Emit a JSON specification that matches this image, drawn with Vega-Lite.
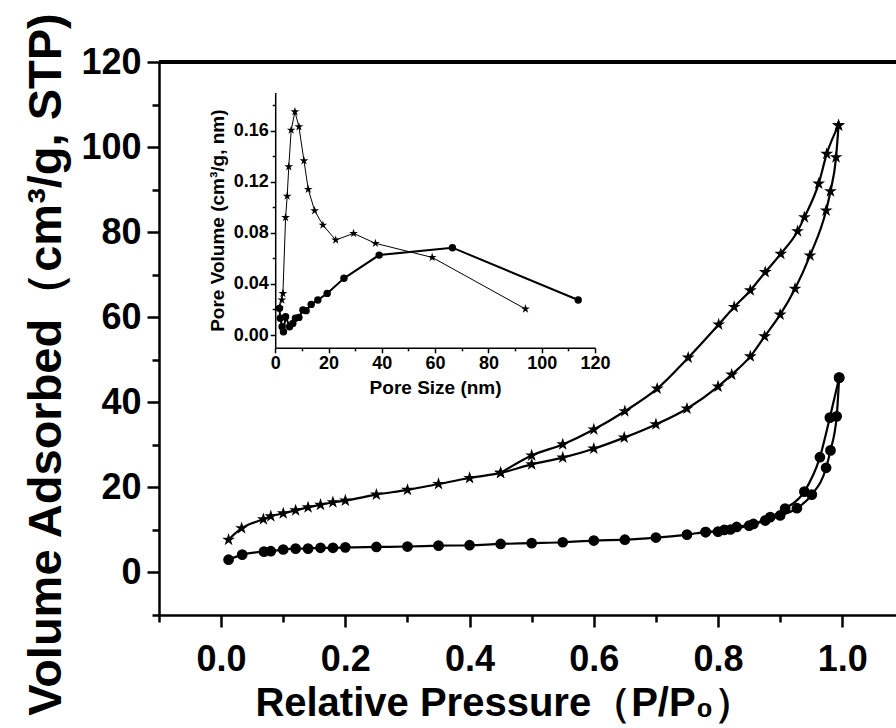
{
  "$schema": "https://vega.github.io/schema/vega-lite/v6.json",
  "width": 737,
  "height": 553,
  "autosize": {"type": "none"},
  "padding": {"left": 159, "top": 62, "right": 0, "bottom": 113},
  "background": "white",
  "config": {
    "view": {"stroke": null},
    "font": "Liberation Sans",
    "axis": {
      "domainColor": "black", "tickColor": "black", "labelColor": "black", "titleColor": "black",
      "grid": false, "labelFont": "Liberation Sans", "titleFont": "Liberation Sans",
      "labelFontWeight": "bold", "titleFontWeight": "bold", "labelOverlap": false, "labelFlush": false
    }
  },
  "datasets": {
    "iso": [
      {"p": 0.012, "v": 7.7, "series": "sa", "sample": "star"},
      {"p": 0.033, "v": 10.4, "series": "sa", "sample": "star"},
      {"p": 0.068, "v": 12.5, "series": "sa", "sample": "star"},
      {"p": 0.08, "v": 13.2, "series": "sa", "sample": "star"},
      {"p": 0.1, "v": 13.9, "series": "sa", "sample": "star"},
      {"p": 0.12, "v": 14.6, "series": "sa", "sample": "star"},
      {"p": 0.14, "v": 15.3, "series": "sa", "sample": "star"},
      {"p": 0.16, "v": 15.9, "series": "sa", "sample": "star"},
      {"p": 0.18, "v": 16.5, "series": "sa", "sample": "star"},
      {"p": 0.2, "v": 16.9, "series": "sa", "sample": "star"},
      {"p": 0.25, "v": 18.3, "series": "sa", "sample": "star"},
      {"p": 0.3, "v": 19.4, "series": "sa", "sample": "star"},
      {"p": 0.35, "v": 20.8, "series": "sa", "sample": "star"},
      {"p": 0.4, "v": 22.2, "series": "sa", "sample": "star"},
      {"p": 0.45, "v": 23.4, "series": "sa", "sample": "star"},
      {"p": 0.5, "v": 25.4, "series": "sa", "sample": "star"},
      {"p": 0.55, "v": 27.0, "series": "sa", "sample": "star"},
      {"p": 0.6, "v": 29.1, "series": "sa", "sample": "star"},
      {"p": 0.649, "v": 31.7, "series": "sa", "sample": "star"},
      {"p": 0.7, "v": 34.8, "series": "sa", "sample": "star"},
      {"p": 0.75, "v": 38.5, "series": "sa", "sample": "star"},
      {"p": 0.8, "v": 43.7, "series": "sa", "sample": "star"},
      {"p": 0.822, "v": 46.5, "series": "sa", "sample": "star"},
      {"p": 0.852, "v": 50.8, "series": "sa", "sample": "star"},
      {"p": 0.875, "v": 55.5, "series": "sa", "sample": "star"},
      {"p": 0.9, "v": 60.6, "series": "sa", "sample": "star"},
      {"p": 0.924, "v": 66.7, "series": "sa", "sample": "star"},
      {"p": 0.948, "v": 74.5, "series": "sa", "sample": "star"},
      {"p": 0.974, "v": 85.1, "series": "sa", "sample": "star"},
      {"p": 0.981, "v": 89.6, "series": "sa", "sample": "star"},
      {"p": 0.99, "v": 97.6, "series": "sa", "sample": "star"},
      {"p": 0.994, "v": 105.1, "series": "sa", "sample": "star"},
      {"p": 0.994, "v": 105.1, "series": "sd", "sample": "star"},
      {"p": 0.975, "v": 98.4, "series": "sd", "sample": "star"},
      {"p": 0.962, "v": 91.4, "series": "sd", "sample": "star"},
      {"p": 0.939, "v": 83.5, "series": "sd", "sample": "star"},
      {"p": 0.928, "v": 80.2, "series": "sd", "sample": "star"},
      {"p": 0.901, "v": 74.9, "series": "sd", "sample": "star"},
      {"p": 0.876, "v": 70.6, "series": "sd", "sample": "star"},
      {"p": 0.852, "v": 66.3, "series": "sd", "sample": "star"},
      {"p": 0.826, "v": 62.4, "series": "sd", "sample": "star"},
      {"p": 0.801, "v": 58.3, "series": "sd", "sample": "star"},
      {"p": 0.752, "v": 50.5, "series": "sd", "sample": "star"},
      {"p": 0.702, "v": 43.2, "series": "sd", "sample": "star"},
      {"p": 0.65, "v": 37.9, "series": "sd", "sample": "star"},
      {"p": 0.6, "v": 33.6, "series": "sd", "sample": "star"},
      {"p": 0.55, "v": 30.1, "series": "sd", "sample": "star"},
      {"p": 0.5, "v": 27.5, "series": "sd", "sample": "star"},
      {"p": 0.45, "v": 23.4, "series": "sd", "sample": "star"},
      {"p": 0.012, "v": 3.0, "series": "ca", "sample": "circle"},
      {"p": 0.034, "v": 4.2, "series": "ca", "sample": "circle"},
      {"p": 0.069, "v": 4.9, "series": "ca", "sample": "circle"},
      {"p": 0.08, "v": 5.0, "series": "ca", "sample": "circle"},
      {"p": 0.1, "v": 5.4, "series": "ca", "sample": "circle"},
      {"p": 0.12, "v": 5.6, "series": "ca", "sample": "circle"},
      {"p": 0.14, "v": 5.6, "series": "ca", "sample": "circle"},
      {"p": 0.16, "v": 5.8, "series": "ca", "sample": "circle"},
      {"p": 0.18, "v": 5.8, "series": "ca", "sample": "circle"},
      {"p": 0.2, "v": 5.9, "series": "ca", "sample": "circle"},
      {"p": 0.25, "v": 6.0, "series": "ca", "sample": "circle"},
      {"p": 0.3, "v": 6.1, "series": "ca", "sample": "circle"},
      {"p": 0.35, "v": 6.3, "series": "ca", "sample": "circle"},
      {"p": 0.4, "v": 6.4, "series": "ca", "sample": "circle"},
      {"p": 0.45, "v": 6.7, "series": "ca", "sample": "circle"},
      {"p": 0.5, "v": 6.9, "series": "ca", "sample": "circle"},
      {"p": 0.55, "v": 7.1, "series": "ca", "sample": "circle"},
      {"p": 0.6, "v": 7.5, "series": "ca", "sample": "circle"},
      {"p": 0.65, "v": 7.7, "series": "ca", "sample": "circle"},
      {"p": 0.7, "v": 8.2, "series": "ca", "sample": "circle"},
      {"p": 0.75, "v": 8.9, "series": "ca", "sample": "circle"},
      {"p": 0.78, "v": 9.5, "series": "ca", "sample": "circle"},
      {"p": 0.8, "v": 9.6, "series": "ca", "sample": "circle"},
      {"p": 0.82, "v": 10.1, "series": "ca", "sample": "circle"},
      {"p": 0.85, "v": 11.0, "series": "ca", "sample": "circle"},
      {"p": 0.876, "v": 12.2, "series": "ca", "sample": "circle"},
      {"p": 0.9, "v": 13.4, "series": "ca", "sample": "circle"},
      {"p": 0.927, "v": 15.1, "series": "ca", "sample": "circle"},
      {"p": 0.951, "v": 18.3, "series": "ca", "sample": "circle"},
      {"p": 0.974, "v": 24.6, "series": "ca", "sample": "circle"},
      {"p": 0.981, "v": 28.7, "series": "ca", "sample": "circle"},
      {"p": 0.991, "v": 36.7, "series": "ca", "sample": "circle"},
      {"p": 0.995, "v": 45.8, "series": "ca", "sample": "circle"},
      {"p": 0.995, "v": 45.8, "series": "cd", "sample": "circle"},
      {"p": 0.98, "v": 36.4, "series": "cd", "sample": "circle"},
      {"p": 0.964, "v": 27.1, "series": "cd", "sample": "circle"},
      {"p": 0.939, "v": 19.0, "series": "cd", "sample": "circle"},
      {"p": 0.908, "v": 15.0, "series": "cd", "sample": "circle"},
      {"p": 0.884, "v": 13.0, "series": "cd", "sample": "circle"},
      {"p": 0.857, "v": 11.4, "series": "cd", "sample": "circle"},
      {"p": 0.83, "v": 10.7, "series": "cd", "sample": "circle"},
      {"p": 0.81, "v": 10.0, "series": "cd", "sample": "circle"},
      {"p": 0.78, "v": 9.5, "series": "cd", "sample": "circle"}
    ],
    "psd": [
      {"d": 1.6, "pv": 0.0217, "sample": "star"},
      {"d": 2.5, "pv": 0.0274, "sample": "star"},
      {"d": 2.9, "pv": 0.0326, "sample": "star"},
      {"d": 3.9, "pv": 0.0921, "sample": "star"},
      {"d": 4.5, "pv": 0.1088, "sample": "star"},
      {"d": 5.1, "pv": 0.1318, "sample": "star"},
      {"d": 6.0, "pv": 0.1605, "sample": "star"},
      {"d": 7.4, "pv": 0.1749, "sample": "star"},
      {"d": 8.9, "pv": 0.1631, "sample": "star"},
      {"d": 10.8, "pv": 0.1365, "sample": "star"},
      {"d": 12.4, "pv": 0.1141, "sample": "star"},
      {"d": 14.8, "pv": 0.0974, "sample": "star"},
      {"d": 17.9, "pv": 0.0861, "sample": "star"},
      {"d": 22.7, "pv": 0.0744, "sample": "star"},
      {"d": 29.4, "pv": 0.0796, "sample": "star"},
      {"d": 37.6, "pv": 0.0718, "sample": "star"},
      {"d": 58.9, "pv": 0.0608, "sample": "star"},
      {"d": 93.9, "pv": 0.0204, "sample": "star"},
      {"d": 1.6, "pv": 0.0209, "sample": "circle"},
      {"d": 1.9, "pv": 0.0131, "sample": "circle"},
      {"d": 2.6, "pv": 0.0065, "sample": "circle"},
      {"d": 3.1, "pv": 0.0026, "sample": "circle"},
      {"d": 3.9, "pv": 0.0144, "sample": "circle"},
      {"d": 5.4, "pv": 0.0065, "sample": "circle"},
      {"d": 6.6, "pv": 0.0091, "sample": "circle"},
      {"d": 7.6, "pv": 0.0131, "sample": "circle"},
      {"d": 8.9, "pv": 0.0138, "sample": "circle"},
      {"d": 10.4, "pv": 0.0196, "sample": "circle"},
      {"d": 11.6, "pv": 0.0191, "sample": "circle"},
      {"d": 13.5, "pv": 0.024, "sample": "circle"},
      {"d": 16.0, "pv": 0.0274, "sample": "circle"},
      {"d": 19.5, "pv": 0.0326, "sample": "circle"},
      {"d": 25.8, "pv": 0.0444, "sample": "circle"},
      {"d": 39.0, "pv": 0.0626, "sample": "circle"},
      {"d": 66.5, "pv": 0.0684, "sample": "circle"},
      {"d": 113.7, "pv": 0.0274, "sample": "circle"}
    ]
  },
  "layer": [
    {
      "data": {"name": "iso"},
      "layer": [
        {
          "mark": {"type": "line", "color": "black", "strokeWidth": 2.2, "interpolate": "monotone", "clip": true},
          "encoding": {
            "x": {
              "field": "p", "type": "quantitative",
              "scale": {"domain": [-0.1, 1.0865], "nice": false, "zero": false},
              "axis": {
                "orient": "bottom",
                "values": [-0.1, 0, 0.1, 0.2, 0.3, 0.4, 0.5, 0.6, 0.7, 0.8, 0.9, 1.0],
                "labelExpr": "round(datum.value*10) % 2 === 0 ? format(datum.value, '.1f') : ''",
                "tickSize": {"condition": {"test": "round(datum.value*10) % 2 === 0", "value": 12}, "value": 7},
                "tickWidth": 2.5, "domainWidth": 2.5,
                "labelFontSize": 36, "labelPadding": 15,
                "title": "Relative Pressure（P/P₀）",
                "titleFontSize": 40, "titlePadding": 6, "titleX": 345
              }
            },
            "y": {
              "field": "v", "type": "quantitative",
              "scale": {"domain": [-10, 120], "nice": false, "zero": false},
              "axis": {
                "orient": "left",
                "values": [-10, 0, 10, 20, 30, 40, 50, 60, 70, 80, 90, 100, 110, 120],
                "labelExpr": "datum.value % 20 === 0 ? format(datum.value, 'd') : ''",
                "tickSize": {"condition": {"test": "datum.value % 20 === 0", "value": 12}, "value": 7},
                "tickWidth": 2.5, "domainWidth": 2.5,
                "labelFontSize": 36, "labelPadding": 6,
                "title": "Volume Adsorbed（cm³/g, STP)",
                "titleFontSize": 47, "titlePadding": 10, "titleY": 302
              }
            },
            "detail": {"field": "series", "type": "nominal"}
          }
        },
        {
          "transform": [{"filter": "datum.sample === 'star'"}],
          "mark": {"type": "point", "filled": true, "color": "black", "opacity": 1, "size": 180,
                   "shape": "M0,-1L0.225,-0.309L0.951,-0.309L0.363,0.118L0.588,0.809L0,0.382L-0.588,0.809L-0.363,0.118L-0.951,-0.309L-0.225,-0.309Z"},
          "encoding": {
            "x": {"field": "p", "type": "quantitative"},
            "y": {"field": "v", "type": "quantitative"}
          }
        },
        {
          "transform": [{"filter": "datum.sample === 'circle'"}],
          "mark": {"type": "point", "filled": true, "color": "black", "opacity": 1, "size": 115, "shape": "circle"},
          "encoding": {
            "x": {"field": "p", "type": "quantitative"},
            "y": {"field": "v", "type": "quantitative"}
          }
        },
        {
          "mark": {"type": "rule", "color": "black", "strokeWidth": 2.5},
          "encoding": {
            "y": {"datum": 120, "type": "quantitative"}
          }
        }
      ]
    },
    {
      "data": {"name": "psd"},
      "encoding": {
        "x": {
          "field": "d", "type": "quantitative",
          "scale": {"domain": [0, 120], "range": [116.2, 436], "nice": false, "zero": false},
          "axis": {
            "orient": "bottom", "offset": -267.2,
            "values": [0, 10, 20, 30, 40, 50, 60, 70, 80, 90, 100, 110, 120],
            "labelExpr": "datum.value % 20 === 0 ? format(datum.value, 'd') : ''",
            "tickSize": {"condition": {"test": "datum.value % 20 === 0", "value": 5}, "value": 3},
            "tickWidth": 1.5, "domainWidth": 1.5,
            "labelFontSize": 18, "labelPadding": 2,
            "title": "Pore Size (nm)", "titleFontSize": 19, "titlePadding": 6
          }
        },
        "y": {
          "field": "pv", "type": "quantitative",
          "scale": {"domain": [-0.01, 0.19], "range": [285.8, 30.4], "nice": false, "zero": false},
          "axis": {
            "orient": "left", "offset": -116.2,
            "values": [0, 0.02, 0.04, 0.06, 0.08, 0.1, 0.12, 0.14, 0.16, 0.18],
            "labelExpr": "round(datum.value*100) % 4 === 0 ? format(datum.value, '.2f') : ''",
            "tickSize": {"condition": {"test": "round(datum.value*100) % 4 === 0", "value": 5}, "value": 3},
            "tickWidth": 1.5, "domainWidth": 1.5,
            "labelFontSize": 18, "labelPadding": 2,
            "title": "Pore Volume (cm³/g, nm)", "titleFontSize": 19, "titlePadding": 6
          }
        }
      },
      "layer": [
        {
          "transform": [{"filter": "datum.sample === 'star'"}],
          "mark": {"type": "line", "color": "black", "strokeWidth": 1}
        },
        {
          "transform": [{"filter": "datum.sample === 'circle'"}],
          "mark": {"type": "line", "color": "black", "strokeWidth": 2}
        },
        {
          "transform": [{"filter": "datum.sample === 'star'"}],
          "mark": {"type": "point", "filled": true, "color": "black", "opacity": 1, "size": 85,
                   "shape": "M0,-1L0.225,-0.309L0.951,-0.309L0.363,0.118L0.588,0.809L0,0.382L-0.588,0.809L-0.363,0.118L-0.951,-0.309L-0.225,-0.309Z"}
        },
        {
          "transform": [{"filter": "datum.sample === 'circle'"}],
          "mark": {"type": "point", "filled": true, "color": "black", "opacity": 1, "size": 55, "shape": "circle"}
        }
      ]
    }
  ],
  "resolve": {"scale": {"x": "independent", "y": "independent"}}
}
